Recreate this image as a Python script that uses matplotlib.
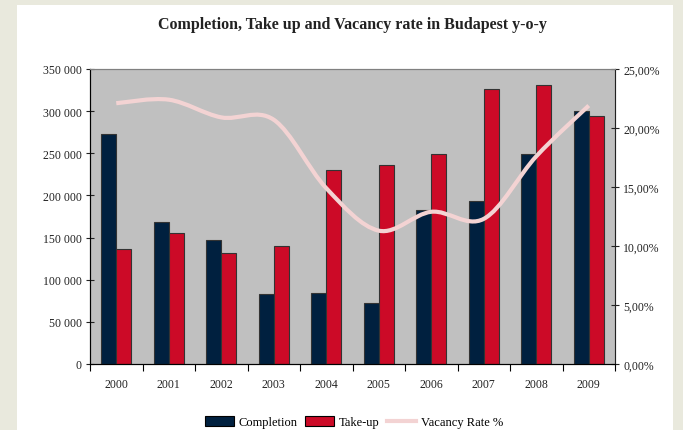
import numpy as np
import matplotlib
matplotlib.use("Agg")
import matplotlib.pyplot as plt
from matplotlib.path import Path
from matplotlib.patches import PathPatch, Rectangle
from matplotlib.lines import Line2D
from matplotlib.ticker import FuncFormatter

years = ["2000", "2001", "2002", "2003", "2004", "2005", "2006", "2007", "2008", "2009"]
completion = [272500, 168500, 147000, 83500, 84000, 72000, 183000, 193000, 249000, 300000]
take_up = [137000, 156000, 131500, 139500, 230000, 236500, 249000, 326000, 331500, 294000]
vacancy = [22.1, 22.4, 20.9, 20.7, 14.9, 11.3, 12.9, 12.3, 17.6, 21.9]

navy = "#00203F"
red = "#CC0A27"
pink = "#F3D3D3"

plt.rcParams['font.family'] = ['Liberation Serif', 'DejaVu Serif']

fig = plt.figure(figsize=(6.83, 4.31), dpi=100)
fig.patch.set_facecolor("#E9E9DD")
fig.patches.append(Rectangle((17 / 683, 0), (673 - 17) / 683, 1 - 6 / 431,
                             transform=fig.transFigure, facecolor="white",
                             edgecolor="none", zorder=-5))

ax = fig.add_axes([90 / 683, 66 / 431, 525 / 683, 295 / 431])
ax.set_facecolor("#C0C0C0")
x = np.arange(len(years))
w = 0.285
ax.bar(x - w / 2, completion, w, color=navy, edgecolor="#333333", linewidth=0.8, label="Completion", zorder=2)
ax.bar(x + w / 2, take_up, w, color=red, edgecolor="#333333", linewidth=0.8, label="Take-up", zorder=2)
ax.set_xlim(-0.5, len(years) - 0.5)
ax.set_ylim(0, 350000)
ax.set_yticks(np.arange(0, 350001, 50000))
ax.yaxis.set_major_formatter(FuncFormatter(lambda v, p: f"{int(v):,}".replace(",", " ")))
ax.set_xticks(x)
ax.set_xticklabels(years)
ax.set_xticks(np.arange(-0.5, len(years)), minor=True)
ax.tick_params(axis="x", which="major", length=0, pad=10, labelsize=8.5, colors="#222222")
ax.tick_params(axis="x", which="minor", length=5, direction="out", width=0.8)
ax.tick_params(axis="y", length=6, direction="inout", width=0.8, labelsize=8.5, colors="#222222", pad=3)
for s in ["top", "right"]:
    ax.spines[s].set_color("#808080")
for s in ["left", "bottom"]:
    ax.spines[s].set_color("#222222")

ax2 = ax.twinx()
ax2.set_ylim(0, 25)
ax2.set_yticks(np.arange(0, 25.01, 5))
ax2.yaxis.set_major_formatter(FuncFormatter(lambda v, p: f"{v:.2f}%".replace(".", ",")))
ax2.tick_params(axis="y", length=6, direction="inout", width=0.8, labelsize=8.5, colors="#222222", pad=3)
ax2.spines["right"].set_color("#222222")
ax2.spines["top"].set_color("#808080")

# smoothed vacancy line (Catmull-Rom through the data points)
pts = np.column_stack([x, vacancy])
verts = [tuple(pts[0])]
codes = [Path.MOVETO]
for i in range(len(pts) - 1):
    p0 = pts[max(i - 1, 0)]
    p1 = pts[i]
    p2 = pts[i + 1]
    p3 = pts[min(i + 2, len(pts) - 1)]
    c1 = p1 + (p2 - p0) / 6
    c2 = p2 - (p3 - p1) / 6
    verts += [tuple(c1), tuple(c2), tuple(p2)]
    codes += [Path.CURVE4] * 3
ax2.add_patch(PathPatch(Path(verts, codes), facecolor="none", edgecolor=pink, linewidth=3, zorder=3))

fig.text(352 / 683, 1 - 25 / 431, "Completion, Take up and Vacancy rate in Budapest y-o-y",
         ha="center", va="center", fontsize=11.5, fontweight="bold", color="#222222")

handles = [Rectangle((0, 0), 1, 1, facecolor=navy, edgecolor="black", linewidth=0.8),
           Rectangle((0, 0), 1, 1, facecolor=red, edgecolor="black", linewidth=0.8),
           Line2D([0], [0], color=pink, linewidth=3)]
fig.legend(handles, ["Completion", "Take-up", "Vacancy Rate %"], loc="center",
           bbox_to_anchor=(354 / 683, 1 - 423 / 431), ncol=3, frameon=False,
           fontsize=9, handlelength=2.3, handleheight=0.9, columnspacing=0.6, handletextpad=0.4)

fig.savefig("out.png", dpi=100, facecolor=fig.get_facecolor())
